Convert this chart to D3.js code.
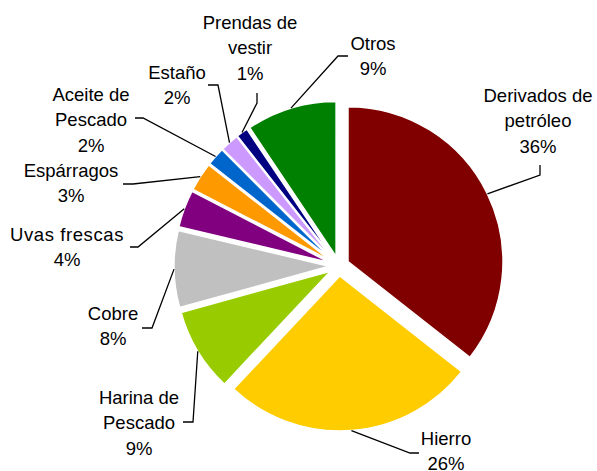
<!DOCTYPE html>
<html>
<head>
<meta charset="utf-8">
<script src="https://cdn.jsdelivr.net/npm/d3@7"></script>
<style>
  body { margin: 0; background: #fff; }
  text { font-family: "Liberation Sans", Arial, sans-serif; font-size: 18.5px; fill: #000; }
</style>
</head>
<body>
<div id="chart"></div>
<script>
// Slice data, clockwise from 12 o'clock
const categories = ["Derivados de petróleo", "Hierro", "Harina de Pescado", "Cobre", "Uvas frescas",
    "Espárragos", "Aceite de Pescado", "Estaño", "Prendas de vestir", "Otros"];
const labelLines = [["Derivados de", "petróleo"], ["Hierro"], ["Harina de", "Pescado"], ["Cobre"],
    ["Uvas frescas"], ["Espárragos"], ["Aceite de", "Pescado"], ["Estaño"], ["Prendas de", "vestir"], ["Otros"]];
const shares = [35.6, 26.4, 8.7, 8.0, 3.9, 3.0, 1.9, 1.9, 1.2, 9.4];
const colors = ["#800000", "#FFCC00", "#99CC00", "#C0C0C0", "#800080",
    "#FF9900", "#0066CC", "#CC99FF", "#000080", "#008000"];

// Label layout: text centre x, first line y, leader stub start and elbow
const labelLayout = [
    { x: 538, y: 95,  s: [540, 165], e: [540, 175] },
    { x: 446, y: 438, s: [419, 453], e: [410, 453] },
    { x: 139, y: 397, s: [183, 422], e: [193, 422] },
    { x: 113, y: 313, s: [142, 328], e: [152, 328] },
    { x: 67,  y: 234, s: [130, 247], e: [138, 247], ls: 0.6 },
    { x: 71,  y: 170, s: [123, 184], e: [133, 184] },
    { x: 91,  y: 94,  s: [135, 118], e: [143, 118] },
    { x: 177, y: 72,  s: [208, 85],  e: [218, 85] },
    { x: 250, y: 22,  s: [257, 93],  e: [257, 103] },
    { x: 373, y: 43,  s: [348, 56],  e: [338, 56] }
];

const width = 597, height = 471;
const cx = 339, cy = 266;
const radius = 155;
const explode = 10;
const lineH = 25.6;

const svg = d3.select("#chart").append("svg")
    .attr("width", width)
    .attr("height", height);

const pie = d3.pie().sort(null).value(d => d)(shares);
const arc = d3.arc().innerRadius(0).outerRadius(radius);

const g = svg.append("g").attr("transform", `translate(${cx},${cy})`);

// offset of each slice along its bisector
function shift(d) {
    const a = (d.startAngle + d.endAngle) / 2;
    return [explode * Math.sin(a), -explode * Math.cos(a)];
}

g.selectAll("path.slice")
    .data(pie)
    .enter()
    .append("path")
    .attr("class", "slice")
    .attr("d", arc)
    .attr("transform", d => `translate(${shift(d)})`)
    .attr("fill", (d, i) => colors[i])
    .attr("stroke", "#fff")
    .attr("stroke-width", 1.5)
    .attr("stroke-linejoin", "round");

// Leader lines: stub near the label, then to the middle of the slice's outer edge
svg.selectAll("polyline.leader")
    .data(pie)
    .enter()
    .append("polyline")
    .attr("class", "leader")
    .attr("fill", "none")
    .attr("stroke", "#000")
    .attr("stroke-width", 1.3)
    .attr("points", (d, i) => {
        const a = (d.startAngle + d.endAngle) / 2;
        const off = shift(d);
        const px = cx + off[0] + radius * Math.sin(a);
        const py = cy + off[1] - radius * Math.cos(a);
        const L = labelLayout[i];
        return [L.s, L.e, [px, py]].map(p => p.join(",")).join(" ");
    });

// Labels
const labels = svg.selectAll("text.lbl")
    .data(pie)
    .enter()
    .append("text")
    .attr("class", "lbl")
    .attr("text-anchor", "middle");

labels.each(function(d, i) {
    const L = labelLayout[i];
    const lines = labelLines[i].concat([Math.round(d.data) + "%"]);
    d3.select(this).selectAll("tspan")
        .data(lines)
        .enter()
        .append("tspan")
        .attr("x", L.x)
        .attr("y", (t, j) => L.y + j * lineH)
        .attr("dy", "0.36em")
        .style("letter-spacing", (t, j) => (j === 0 && L.ls) ? L.ls + "px" : null)
        .text(t => t);
});
</script>
</body>
</html>
